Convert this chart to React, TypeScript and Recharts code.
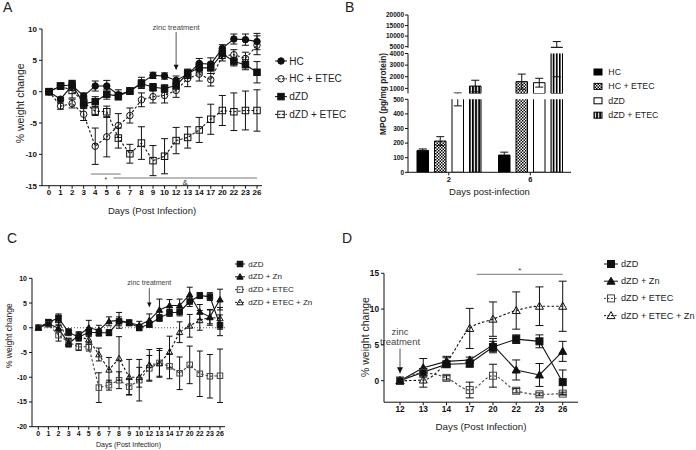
import {
  Bar,
  BarChart,
  ErrorBar,
  Legend,
  Line,
  LineChart,
  Rectangle,
  ReferenceDot,
  ReferenceLine,
  XAxis,
  YAxis,
} from "recharts"

const FONT = '"Liberation Sans", Arial, Helvetica, sans-serif'
const INK = "#111111"
const GREY = "#555555"

// ---- panel A: % weight change, days 0-26
const daysA = ["0", "1", "2", "3", "4", "5", "6", "7", "8", "9", "10", "12", "13", "14", "17", "20", "22", "23", "26"]
const hcA = [0, -1.2, 1.0, -0.7, 0.9, 0.9, -0.5, 0.1, 1.4, 2.6, 2.5, 1.8, 2.8, 4.5, 4.4, 6.9, 8.4, 8.3, 8.0]
const hcErrA = [0, 0.3, 0.8, 0.5, 0.8, 0.9, 0.8, 0.5, 0.9, 0.5, 0.5, 0.7, 0.7, 0.8, 1.0, 0.6, 0.8, 0.9, 1.3]
const hcEtecA = [0, -2.3, -1.9, -3.6, -8.7, -7.2, -5.4, -3.8, -1.3, -0.8, -0.6, 0.2, 2.1, 2.8, 1.9, 5.7, 5.9, 5.3, 7.4]
const hcEtecErrA = [0, 0.5, 0.7, 1.0, 2.9, 3.2, 1.9, 1.2, 1.1, 1.0, 1.2, 1.1, 1.3, 1.1, 1.0, 0.8, 0.8, 1.0, 1.5]
const dzdA = [0, 0.9, 1.1, -1.9, -1.6, -0.4, -0.7, 0.1, 1.3, 0.7, 0.5, 1.0, 2.9, 3.8, 3.8, 6.1, 4.8, 4.3, 3.1]
const dzdErrA = [0, 0.3, 0.7, 0.8, 0.8, 0.8, 0.6, 0.5, 0.6, 0.6, 0.6, 0.6, 0.7, 0.8, 0.9, 0.8, 0.7, 0.8, 1.7]
const dzdEtecA = [0, 0.9, 0.2, -1.7, -3.1, -3.2, -7.4, -9.9, -8.2, -11.0, -10.3, -7.8, -7.3, -6.1, -4.4, -3.0, -3.2, -3.0, -3.0]
const dzdEtecErrA = [0, 0.3, 1.2, 0.8, 0.7, 0.9, 1.6, 1.5, 2.6, 2.4, 2.8, 2.1, 1.7, 2.0, 2.4, 2.4, 3.0, 3.1, 3.3]

// ---- panel B: MPO (pg/mg protein)
const mpoDays = ["2", "6"]
const mpoHC = [150, 118]
const mpoHCErr = [10, 20]
const mpoHCEtec = [214, 1580]
const mpoHCEtecErr = [30, 650]
const mpoDZD = [530, 1490]
const mpoDZDErr = [75, 380]
const mpoDZDEtec = [1200, 4700]
const mpoDZDEtecErr = [500, 2700]

// ---- panel C: % weight change with zinc, days 0-26
const daysC = daysA
const dzdC = [0, 1.1, 2.0, -0.9, -1.9, -0.9, -1.0, -1.0, 1.3, 1.0, 0.0, 0.7, 2.0, 3.0, 3.2, 5.3, 6.5, 6.3, 0.5]
const dzdErrC = [0, 0.6, 0.8, 0.7, 0.8, 0.9, 0.7, 0.6, 0.9, 0.5, 0.6, 0.6, 0.7, 0.7, 0.8, 1.0, 0.6, 0.8, 2.1]
const dzdZnC = [0, 0.8, -0.1, -3.2, -1.5, 0.0, -0.5, 1.3, 1.5, 1.0, 0.5, 1.5, 3.6, 4.5, 4.5, 6.7, 3.2, 2.2, 5.7]
const dzdZnErrC = [0, 0.4, 0.6, 0.7, 0.7, 1.5, 1.0, 0.9, 1.6, 0.6, 0.8, 1.3, 2.2, 1.2, 1.3, 1.5, 1.5, 1.4, 2.1]
const dzdEtecC = [0, 0.7, -1.5, -2.9, -3.9, -3.8, -12.1, -11.6, -10.6, -11.9, -10.6, -8.2, -7.1, -7.8, -9.2, -7.5, -9.3, -9.8, -9.7]
const dzdEtecErrC = [0, 0.4, 1.2, 0.8, 0.7, 0.9, 3.0, 1.0, 1.7, 1.6, 4.2, 2.6, 2.9, 2.5, 3.3, 3.8, 4.6, 4.4, 5.4]
const dzdEtecZnC = [0, 1.0, 1.5, -3.0, -1.8, -2.4, -5.4, -8.5, -6.2, -10.0, -10.0, -7.5, -7.2, -4.9, -0.9, 0.4, 1.5, 2.1, 1.9]
const dzdEtecZnErrC = [0, 0.5, 0.9, 0.8, 0.8, 1.0, 1.3, 2.5, 4.4, 3.6, 2.0, 3.1, 2.6, 3.2, 2.1, 2.3, 2.0, 1.6, 2.2]

// ---- panel D: after zinc treatment, days 12-26
const daysD = ["12", "13", "14", "17", "20", "22", "23", "26"]
const dzdD = [0, 1.2, 2.3, 2.4, 4.7, 5.8, 5.5, -0.2]
const dzdErrD = [0, 0.5, 0.4, 0.5, 0.8, 0.6, 0.9, 1.7]
const dzdZnD = [0, 1.8, 2.7, 2.9, 5.0, 1.5, 0.8, 4.1]
const dzdZnErrD = [0, 1.3, 0.7, 0.4, 0.9, 1.4, 1.6, 1.4]
const dzdEtecD = [0, 1.1, 0.4, -1.3, 0.7, -1.4, -1.9, -1.8]
const dzdEtecErrD = [0, 0.3, 0.3, 1.1, 1.6, 0.3, 0.2, 0.2]
const dzdEtecZnD = [0, 0.1, 2.6, 7.3, 8.6, 9.8, 10.4, 10.4]
const dzdEtecZnErrD = [0, 1.0, 0.6, 2.8, 2.4, 2.6, 2.7, 3.5]

function rowsFrom(days: string[], cols: Record<string, number[]>) {
  return days.map((day, i) => {
    const row: Record<string, number | string> = { i, day }
    for (const [k, v] of Object.entries(cols)) row[k] = v[i]
    return row
  })
}

const rowsA = rowsFrom(daysA, {
  hc: hcA, hcErr: hcErrA, hcEtec: hcEtecA, hcEtecErr: hcEtecErrA,
  dzd: dzdA, dzdErr: dzdErrA, dzdEtec: dzdEtecA, dzdEtecErr: dzdEtecErrA,
})
const rowsC = rowsFrom(daysC, {
  dzd: dzdC, dzdErr: dzdErrC, dzdZn: dzdZnC, dzdZnErr: dzdZnErrC,
  dzdEtec: dzdEtecC, dzdEtecErr: dzdEtecErrC, dzdEtecZn: dzdEtecZnC, dzdEtecZnErr: dzdEtecZnErrC,
})
const rowsD = rowsFrom(daysD, {
  dzd: dzdD, dzdErr: dzdErrD, dzdZn: dzdZnD, dzdZnErr: dzdZnErrD,
  dzdEtec: dzdEtecD, dzdEtecErr: dzdEtecErrD, dzdEtecZn: dzdEtecZnD, dzdEtecZnErr: dzdEtecZnErrD,
})
const rowsB = rowsFrom(mpoDays, {
  hc: mpoHC, hcErr: mpoHCErr, hcEtec: mpoHCEtec, hcEtecErr: mpoHCEtecErr,
  dzd: mpoDZD, dzdErr: mpoDZDErr, dzdEtec: mpoDZDEtec, dzdEtecErr: mpoDZDEtecErr,
})

type Shape = "circle" | "square" | "triangle"
interface SeriesDef {
  key: string
  name: string
  shape: Shape
  filled: boolean
  dashed: boolean
  color: string
}

const seriesA: SeriesDef[] = [
  { key: "hc", name: "HC", shape: "circle", filled: true, dashed: false, color: INK },
  { key: "hcEtec", name: "HC + ETEC", shape: "circle", filled: false, dashed: true, color: INK },
  { key: "dzd", name: "dZD", shape: "square", filled: true, dashed: false, color: INK },
  { key: "dzdEtec", name: "dZD + ETEC", shape: "square", filled: false, dashed: true, color: INK },
]
const seriesZn: SeriesDef[] = [
  { key: "dzd", name: "dZD", shape: "square", filled: true, dashed: false, color: INK },
  { key: "dzdZn", name: "dZD + Zn", shape: "triangle", filled: true, dashed: false, color: INK },
  { key: "dzdEtec", name: "dZD + ETEC", shape: "square", filled: false, dashed: true, color: "#444" },
  { key: "dzdEtecZn", name: "dZD + ETEC + Zn", shape: "triangle", filled: false, dashed: true, color: INK },
]

function Marker({ cx, cy, shape, filled, size, color }: {
  cx?: number; cy?: number; shape: Shape; filled: boolean; size: number; color: string
}) {
  if (cx == null || cy == null) return null
  const h = size / 2
  const fill = filled ? color : "none"
  if (shape === "circle")
    return <circle cx={cx} cy={cy} r={h} fill={fill} stroke={color} strokeWidth={1} />
  if (shape === "square")
    return <rect x={cx - h} y={cy - h} width={size} height={size} fill={fill} stroke={color} strokeWidth={1} />
  const t = h * 1.15
  return (
    <path
      d={`M${cx} ${cy - t}L${cx + t} ${cy + t * 0.75}L${cx - t} ${cy + t * 0.75}Z`}
      fill={fill}
      stroke={color}
      strokeWidth={1}
    />
  )
}

function VLabel({ viewBox, text, size, dx, dy = 0, weight = 400 }: any) {
  const cx = viewBox.x + dx
  const cy = viewBox.y + viewBox.height / 2 + dy
  return (
    <text x={cx} y={cy} transform={`rotate(-90 ${cx} ${cy})`} textAnchor="middle"
      dominantBaseline="central" fontSize={size} fontWeight={weight} fill="#222">
      {text}
    </text>
  )
}

function HLabel({ viewBox, text, size, dy }: any) {
  const cx = viewBox.x + viewBox.width / 2
  return (
    <text x={cx} y={viewBox.y + dy} textAnchor="middle" dominantBaseline="central" fontSize={size} fill="#222">
      {text}
    </text>
  )
}

function SeriesLegend({ series, rowGap, size, marker, half, textDx }: {
  series: SeriesDef[]; rowGap: number; size: number; marker: number; half: number; textDx: number
}) {
  return (
    <svg width={140} height={series.length * rowGap + 10} style={{ overflow: "visible" }}>
      {series.map((s, i) => {
        const y = 8 + i * rowGap
        return (
          <g key={s.key}>
            <line x1={8 - half} x2={8 + half} y1={y} y2={y} stroke={s.color} strokeWidth={1}
              strokeDasharray={s.dashed ? "2 1.5" : undefined} />
            <Marker cx={8} cy={y} shape={s.shape} filled={s.filled} size={marker} color={s.color} />
            <text x={textDx} y={y} dominantBaseline="central" fontSize={size} fill="#222">{s.name}</text>
          </g>
        )
      })}
    </svg>
  )
}

interface LinePanelProps {
  left: number
  top: number
  width: number
  height: number
  margin: { top: number; right: number; bottom: number; left: number }
  yAxisWidth: number
  xAxisHeight: number
  days: string[]
  rows: Record<string, number | string>[]
  series: SeriesDef[]
  yDomain: [number, number]
  yTicks: number[]
  xPad: { left: number; right: number }
  tickFont: number
  yLabel: { text: string; size: number; dx: number; dy: number }
  xLabel: { text: string; size: number; dy: number }
  markerSize: number
  errWidth: number
  dashedCurve: "linear" | "monotone"
  zeroLine?: boolean
  zinc: { x: number; from: number; tip: number; lines: string[]; size: number; gap: number; head: number }
  sig: { x1: number; x2: number; y: number; text: string; size: number; dy: number }[]
  legend: { left: number; top: number; rowGap: number; size: number; marker: number; half: number; textDx: number }
}

function LinePanel(p: LinePanelProps) {
  const n = p.days.length - 1
  const z = p.zinc
  return (
    <div style={{ position: "absolute", left: p.left, top: p.top }}>
      <LineChart width={p.width} height={p.height} data={p.rows} margin={p.margin}>
        <XAxis
          type="number"
          dataKey="i"
          domain={[0, n]}
          ticks={p.days.map((_, i) => i)}
          interval={0}
          tickFormatter={(v: number) => p.days[v]}
          padding={p.xPad}
          height={p.xAxisHeight}
          axisLine={{ stroke: INK }}
          tickLine={{ stroke: INK }}
          tickSize={3}
          tickMargin={1}
          tick={{ fontSize: p.tickFont, fontWeight: 700, fill: INK }}
          label={{ content: (lp: any) => <HLabel viewBox={lp.viewBox} {...p.xLabel} /> }}
        />
        <YAxis
          type="number"
          domain={p.yDomain}
          ticks={p.yTicks}
          interval={0}
          width={p.yAxisWidth}
          axisLine={{ stroke: INK }}
          tickLine={{ stroke: INK }}
          tickSize={3}
          tickMargin={2}
          tick={{ fontSize: p.tickFont, fontWeight: 700, fill: INK }}
          label={{ content: (lp: any) => <VLabel viewBox={lp.viewBox} {...p.yLabel} /> }}
        />
        {p.zeroLine && <ReferenceLine y={0} stroke={GREY} strokeDasharray="1 2" />}
        <ReferenceLine
          segment={[{ x: z.x, y: z.from }, { x: z.x, y: z.tip }]}
          stroke={GREY}
          strokeWidth={1}
          label={{
            content: (lp: any) => {
              const vb = lp.viewBox
              const cx = vb.x + vb.width / 2
              return (
                <text textAnchor="middle" fontSize={z.size} fill="#444">
                  {z.lines.map((t, k) => (
                    <tspan key={t} x={cx} y={vb.y - z.gap - (z.lines.length - 1 - k) * z.size * 1.15}>{t}</tspan>
                  ))}
                </text>
              )
            },
          }}
        />
        <ReferenceDot
          x={z.x}
          y={z.tip}
          shape={(d: any) => (
            <path d={`M${d.cx - z.head / 2} ${d.cy - z.head}L${d.cx + z.head / 2} ${d.cy - z.head}L${d.cx} ${d.cy}Z`} fill={INK} />
          )}
        />
        {p.sig.map((s) => (
          <ReferenceLine
            key={s.text}
            segment={[{ x: s.x1, y: s.y }, { x: s.x2, y: s.y }]}
            stroke="#777"
            strokeWidth={1}
            label={{
              content: (lp: any) => (
                <text x={lp.viewBox.x + lp.viewBox.width / 2} y={lp.viewBox.y + s.dy} textAnchor="middle"
                  dominantBaseline="central" fontSize={s.size} fill="#333">{s.text}</text>
              ),
            }}
          />
        ))}
        {p.series.map((s) => (
          <Line
            key={s.key}
            dataKey={s.key}
            name={s.name}
            type={s.dashed ? p.dashedCurve : "linear"}
            stroke={s.color}
            strokeWidth={1.1}
            strokeDasharray={s.dashed ? "2.5 2" : undefined}
            dot={(d: any) => (
              <Marker key={`${s.key}-${d.index}`} cx={d.cx} cy={d.cy} shape={s.shape} filled={s.filled}
                size={p.markerSize} color={s.color} />
            )}
            activeDot={false}
            isAnimationActive={false}
          >
            <ErrorBar dataKey={`${s.key}Err`} width={p.errWidth} stroke={INK} strokeWidth={1} />
          </Line>
        ))}
        <Legend
          layout="vertical"
          align="center"
          verticalAlign="middle"
          wrapperStyle={{ left: p.legend.left, top: p.legend.top, width: 140, height: 80 }}
          content={() => <SeriesLegend series={p.series} {...p.legend} />}
        />
      </LineChart>
    </div>
  )
}

// ---- panel B pieces: three stacked segments of a broken y axis
const mpoBars = [
  { key: "hc", name: "HC", fill: "#000000" },
  { key: "hcEtec", name: "HC + ETEC", fill: "url(#mpoChecker)" },
  { key: "dzd", name: "dZD", fill: "#ffffff" },
  { key: "dzdEtec", name: "dZD + ETEC", fill: "url(#mpoStripes)" },
]

const B_W = 351
const B_H = 225
const B_LEFT = 33
const B_YW = 30
const B_RIGHT = 125
const B_XH = 30

const mpoSegments = [
  { id: "top", domain: [4500, 20000], ticks: [5000, 10000, 15000, 20000], mTop: 15, mBottom: 177.3 },
  { id: "mid", domain: [560, 4000], ticks: [1000, 2000, 3000, 4000], mTop: 53.5, mBottom: 131.5 },
  { id: "low", domain: [0, 500], ticks: [0, 100, 200, 300, 400, 500], mTop: 99.3, mBottom: 22.7 },
]

function MpoLegend() {
  return (
    <svg width={110} height={70}>
      {mpoBars.map((b, i) => {
        const y = 8 + i * 14.4
        return (
          <g key={b.key}>
            <rect x={4} y={y - 3} width={8} height={6} fill={b.fill} stroke="#000" strokeWidth={1} />
            <text x={18.3} y={y} dominantBaseline="central" fontSize={8.8} fill="#222">{b.name}</text>
          </g>
        )
      })}
    </svg>
  )
}

function MpoSegment({ seg, showX }: { seg: (typeof mpoSegments)[number]; showX: boolean }) {
  const clipId = `mpoClip-${seg.id}`
  const plotTop = seg.mTop
  const plotH = B_H - seg.mTop - seg.mBottom - (showX ? B_XH : 0)
  const floor = seg.domain[0]
  return (
    <div style={{ position: "absolute", left: 345, top: 0 }}>
      <BarChart
        width={B_W}
        height={B_H}
        data={rowsB}
        margin={{ top: seg.mTop, right: B_RIGHT, bottom: seg.mBottom, left: B_LEFT }}
        barSize={11.5}
        barGap={6}
      >
        <defs>
          <clipPath id={clipId}>
            <rect x={B_LEFT + B_YW} y={plotTop} width={B_W - B_LEFT - B_YW - B_RIGHT} height={plotH} />
          </clipPath>
          {showX && (
            <>
              <pattern id="mpoChecker" width={3} height={3} patternUnits="userSpaceOnUse">
                <rect width={3} height={3} fill="#fff" />
                <rect width={1.5} height={1.5} fill="#000" />
                <rect x={1.5} y={1.5} width={1.5} height={1.5} fill="#000" />
              </pattern>
              <pattern id="mpoStripes" width={3.1} height={4} patternUnits="userSpaceOnUse">
                <rect width={3.1} height={4} fill="#fff" />
                <rect width={1.8} height={4} fill="#000" />
              </pattern>
            </>
          )}
        </defs>
        <XAxis
          dataKey="day"
          hide={!showX}
          height={B_XH}
          axisLine={{ stroke: INK }}
          tickLine={{ stroke: INK }}
          tickSize={3}
          tickMargin={1}
          tick={{ fontSize: 7.5, fontWeight: 700, fill: INK }}
          label={showX ? { content: (lp: any) => <HLabel viewBox={lp.viewBox} text="Days post-infection" size={9.5} dy={19.4} /> } : undefined}
        />
        <YAxis
          type="number"
          domain={seg.domain}
          ticks={seg.ticks}
          interval={0}
          allowDataOverflow
          width={B_YW}
          axisLine={{ stroke: INK }}
          tickLine={{ stroke: INK }}
          tickSize={3}
          tickMargin={1}
          tick={{ fontSize: 6.5, fontWeight: 700, fill: INK }}
          label={showX ? { content: (lp: any) => <VLabel viewBox={lp.viewBox} text="MPO (pg/mg protein)" size={8.3} dx={5} dy={-41.8} weight={700} /> } : undefined}
        />
        {mpoBars.map((b) => (
          <Bar
            key={b.key}
            dataKey={b.key}
            name={b.name}
            fill={b.fill}
            stroke="#000"
            strokeWidth={1}
            isAnimationActive={false}
            shape={(bp: any) => (bp.payload?.[b.key] > floor ? <Rectangle {...bp} /> : <g />)}
          >
            <ErrorBar dataKey={`${b.key}Err`} width={4} stroke={INK} strokeWidth={1} clipPath={`url(#${clipId})`} />
          </Bar>
        ))}
        {showX && (
          <Legend
            layout="vertical"
            align="center"
            verticalAlign="middle"
            wrapperStyle={{ left: 245, top: 63.7, width: 110, height: 70 }}
            content={() => <MpoLegend />}
          />
        )}
      </BarChart>
    </div>
  )
}

const letterStyle = { position: "absolute" as const, fontSize: 14, lineHeight: "14px", color: "#222" }

export default function App() {
  return (
    <div style={{ position: "absolute", left: 0, top: 0, width: 696, height: 450, background: "#fff", fontFamily: FONT, overflow: "hidden" }}>
      <LinePanel
        left={0}
        top={0}
        width={345}
        height={225}
        margin={{ top: 29, right: 83, bottom: 9.3, left: 12 }}
        yAxisWidth={30}
        xAxisHeight={30}
        days={daysA}
        rows={rowsA}
        series={seriesA}
        yDomain={[-15, 10]}
        yTicks={[-15, -10, -5, 0, 5, 10]}
        xPad={{ left: 7, right: 5 }}
        tickFont={8}
        yLabel={{ text: "% weight change", size: 10.5, dx: 8, dy: -4 }}
        xLabel={{ text: "Days (Post Infection)", size: 9.5, dy: 24.3 }}
        markerSize={6.5}
        errWidth={3.5}
        dashedCurve="linear"
        zinc={{ x: 11, from: 9.5, tip: 3.5, lines: ["zinc treatment"], size: 7.5, gap: 2.5, head: 5 }}
        sig={[
          { x1: 3.63, x2: 6.2, y: -13.14, text: "*", size: 7, dy: 5 },
          { x1: 5.56, x2: 18, y: -13.77, text: "&", size: 8, dy: 5 },
        ]}
        legend={{ left: 273, top: 53, rowGap: 17.8, size: 10, marker: 6.5, half: 6, textDx: 16.3 }}
      />
      {mpoSegments.map((seg) => (
        <MpoSegment key={seg.id} seg={seg} showX={seg.id === "low"} />
      ))}
      <LinePanel
        left={0}
        top={225}
        width={345}
        height={225}
        margin={{ top: 53.3, right: 120, bottom: 1.3, left: 8 }}
        yAxisWidth={24}
        xAxisHeight={22}
        days={daysC}
        rows={rowsC}
        series={seriesZn}
        yDomain={[-20, 10]}
        yTicks={[-20, -15, -10, -5, 0, 5, 10]}
        xPad={{ left: 6.3, right: 5 }}
        tickFont={7}
        yLabel={{ text: "% weight change", size: 8.5, dx: 1.5, dy: -16.8 }}
        xLabel={{ text: "Days (Post Infection)", size: 7, dy: 17.5 }}
        markerSize={5.5}
        errWidth={3}
        dashedCurve="linear"
        zeroLine
        zinc={{ x: 11, from: 8, tip: 4.2, lines: ["zinc treatment"], size: 7, gap: 3.2, head: 4.5 }}
        sig={[]}
        legend={{ left: 232, top: 31, rowGap: 12.8, size: 8, marker: 5.5, half: 5, textDx: 16.3 }}
      />
      <LinePanel
        left={345}
        top={225}
        width={351}
        height={225}
        margin={{ top: 48.3, right: 118, bottom: 17.8, left: 17 }}
        yAxisWidth={22}
        xAxisHeight={30}
        days={daysD}
        rows={rowsD}
        series={seriesZn}
        yDomain={[-3, 15]}
        yTicks={[0, 5, 10, 15]}
        xPad={{ left: 16, right: 15.3 }}
        tickFont={8.3}
        yLabel={{ text: "% weight change", size: 10.5, dx: 3, dy: -0.7 }}
        xLabel={{ text: "Days (Post Infection)", size: 9.8, dy: 24.5 }}
        markerSize={7}
        errWidth={4}
        dashedCurve="monotone"
        zinc={{ x: 0, from: 4.5, tip: 1.03, lines: ["zinc", "treatment"], size: 9.5, gap: 3, head: 6 }}
        sig={[{ x1: 3.3, x2: 7, y: 14.86, text: "*", size: 8, dy: -4.3 }]}
        legend={{ left: 257.7, top: 31, rowGap: 17.2, size: 9.2, marker: 7, half: 7, textDx: 18 }}
      />
      <div style={{ ...letterStyle, left: 3, top: 0 }}>A</div>
      <div style={{ ...letterStyle, left: 345, top: 0 }}>B</div>
      <div style={{ ...letterStyle, left: 7, top: 231 }}>C</div>
      <div style={{ ...letterStyle, left: 342, top: 231 }}>D</div>
    </div>
  )
}
